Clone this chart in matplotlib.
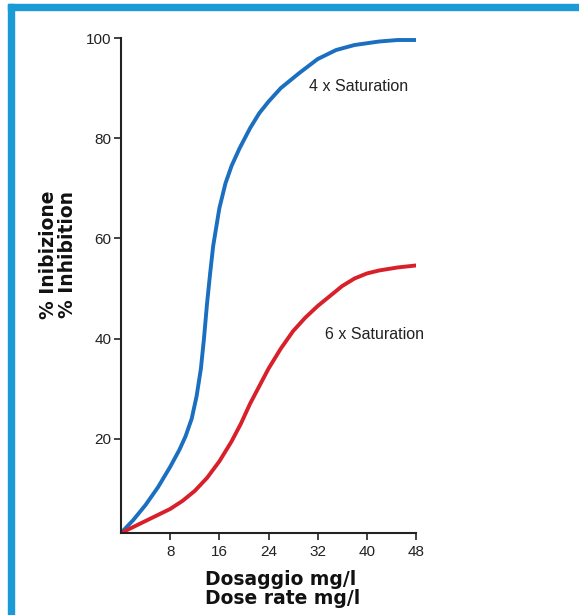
import matplotlib
matplotlib.use('Agg')
import matplotlib.pyplot as plt
from matplotlib.patches import Rectangle

plt.rcParams['font.family'] = ['Liberation Sans', 'DejaVu Sans']

# dose (mg/l) and % inhibition
dose_4x = [0, 2, 4, 6, 8, 9.5, 10.5, 11.5, 12.3, 13, 13.5, 14, 14.5, 15, 16, 17, 18, 19.3, 21, 22.5, 24, 26, 29, 32, 35, 38, 42, 45, 48]
inhib_4x = [1.2, 3.8, 6.8, 10.3, 14.4, 17.8, 20.5, 24, 28.5, 34, 40, 47, 53, 58.5, 66, 71, 74.5, 78, 82, 85, 87.3, 90, 93, 95.8, 97.6, 98.6, 99.3, 99.6, 99.6]

dose_6x = [0, 2, 4, 6, 8, 10, 12, 14, 16, 18, 19.5, 21, 22.5, 24, 26, 28, 30, 32, 34, 36, 38, 40, 42, 45, 48]
inhib_6x = [1.2, 2.4, 3.6, 4.8, 6, 7.6, 9.6, 12.2, 15.5, 19.5, 23, 27, 30.5, 34, 38, 41.5, 44.2, 46.5, 48.5, 50.5, 52, 53, 53.6, 54.2, 54.6]

x_ticks = [8, 16, 24, 32, 40, 48]
y_ticks = [20, 40, 60, 80, 100]
labels = ['4 x Saturation', '6 x Saturation']
label_pos = [(30.6, 90.3), (33.2, 40.8)]

fig = plt.figure(figsize=(5.79, 6.15), dpi=100)
ax = fig.add_axes([121 / 579, 1 - 533 / 615, (416 - 121) / 579, (533 - 38) / 615])

ax.plot(dose_4x, inhib_4x, color='#1a6fc0', lw=2.8, solid_capstyle='round')
ax.plot(dose_6x, inhib_6x, color='#d8202b', lw=2.8, solid_capstyle='round')

for txt, (lx, ly) in zip(labels, label_pos):
    ax.text(lx, ly, txt, fontsize=11.5, color='#222222', va='center')

ax.set_xlim(0, 48)
ax.set_ylim(1.2, 100)
ax.set_xticks(x_ticks)
ax.set_yticks(y_ticks)
ax.tick_params(labelsize=11, length=5, width=1.2, colors='#222222')
ax.tick_params(axis='y', pad=2)
for side in ['top', 'right']:
    ax.spines[side].set_visible(False)
for side in ['left', 'bottom']:
    ax.spines[side].set_linewidth(1.5)
    ax.spines[side].set_color('#222222')

lab_font = dict(family='DejaVu Sans', size=13.5, weight='bold', color='#111111')
ax.set_xlabel('Dosaggio mg/l\nDose rate mg/l', linespacing=1.0, ha='left', va='top', **lab_font)
ax.xaxis.set_label_coords((205 - 121) / 295, -(570 - 533) / 495)
ax.set_ylabel('% Inibizione\n% Inhibition', linespacing=1.0, **lab_font)
ax.yaxis.set_label_coords(-(121 - 77) / 295, (533 - 255) / 495)

# blue frame on the top and left edges
border = '#1a9ad6'
fig.add_artist(Rectangle((8 / 579, 1 - 10 / 615), 1, 6 / 615, transform=fig.transFigure, color=border))
fig.add_artist(Rectangle((8 / 579, 0), 6 / 579, 1 - 4 / 615, transform=fig.transFigure, color=border))

fig.savefig('out.png', dpi=100)
